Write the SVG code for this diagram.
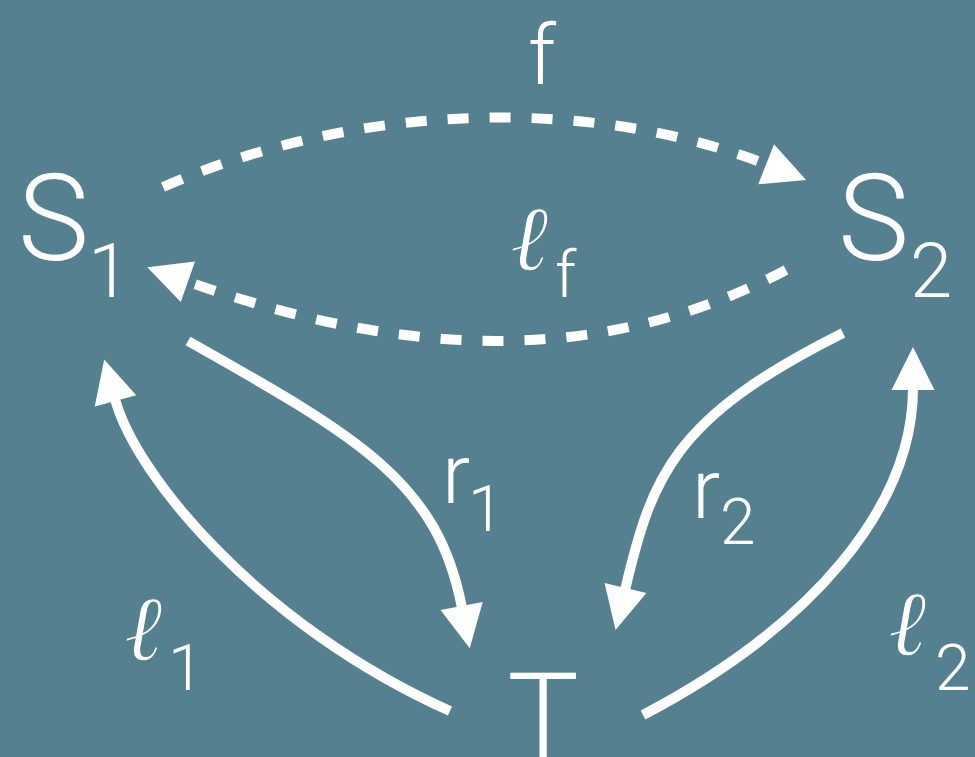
<svg xmlns="http://www.w3.org/2000/svg" width="975" height="757" viewBox="0 0 975 757">
<style>
.edge{fill:none;stroke:#ffffff;stroke-width:10;stroke-linecap:butt}
.dash{stroke-dasharray:21 21}
.lbl{fill:#ffffff;font-family:Roboto,"Liberation Sans","DejaVu Sans",sans-serif;font-weight:300}
.ell{fill:#ffffff;stroke:#54808f;stroke-width:1.2;font-family:"Liberation Serif","DejaVu Serif",serif;font-style:italic;font-weight:400;font-size:92px}
.node{font-size:120px}
.nsub{font-size:76px}
.el{font-size:84px}
.esub{font-size:64px}
</style>
<defs>
<marker id="ah" markerUnits="userSpaceOnUse" markerWidth="46" markerHeight="44" refX="2" refY="21.5" orient="auto" viewBox="0 0 46 44" overflow="visible">
<path d="M0,0 L43,21.5 L0,43 Z" fill="#ffffff" stroke="none"/>
</marker>
</defs>
<rect width="975" height="757" fill="#54808f"/>
<g id="connectors">
<path class="edge dash" d="M163,187 C364,99 598,98 768,165" marker-end="url(#ah)"/>
<path class="edge dash" d="M786,270 C582,377 376,348 186,281" marker-end="url(#ah)"/>
<path class="edge" d="M188,341 C362,439 438,483 462,608" marker-end="url(#ah)"/>
<path class="edge" d="M843,333 C673,418 652,476 625,590" marker-end="url(#ah)"/>
<path class="edge" d="M450,711 C259,625 136,476 115,399" marker-end="url(#ah)"/>
<path class="edge" d="M643,715 C811,627 913,507 913,388" marker-end="url(#ah)"/>
</g>
<g id="S1"><text class="lbl node" x="18" y="260">S</text><text class="lbl nsub" x="88" y="297">1</text></g>
<g id="S2"><text class="lbl node" x="838" y="260">S</text><text class="lbl nsub" x="910" y="297">2</text></g>
<g id="T"><text class="lbl node" x="543" y="759" text-anchor="middle">T</text></g>
<g id="label-f"><text class="lbl el" x="542" y="84" text-anchor="middle">f</text></g>
<g id="label-lf"><text class="ell" x="510" y="270">ℓ</text><text class="lbl esub" x="555" y="297">f</text></g>
<g id="label-r1"><text class="lbl el" x="442" y="503">r</text><text class="lbl esub" x="468" y="531">1</text></g>
<g id="label-r2"><text class="lbl el" x="692" y="518">r</text><text class="lbl esub" x="720" y="544">2</text></g>
<g id="label-l1"><text class="ell" x="124" y="660">ℓ</text><text class="lbl esub" x="168" y="690">1</text></g>
<g id="label-l2"><text class="ell" x="888" y="655">ℓ</text><text class="lbl esub" x="935" y="690">2</text></g>
</svg>
